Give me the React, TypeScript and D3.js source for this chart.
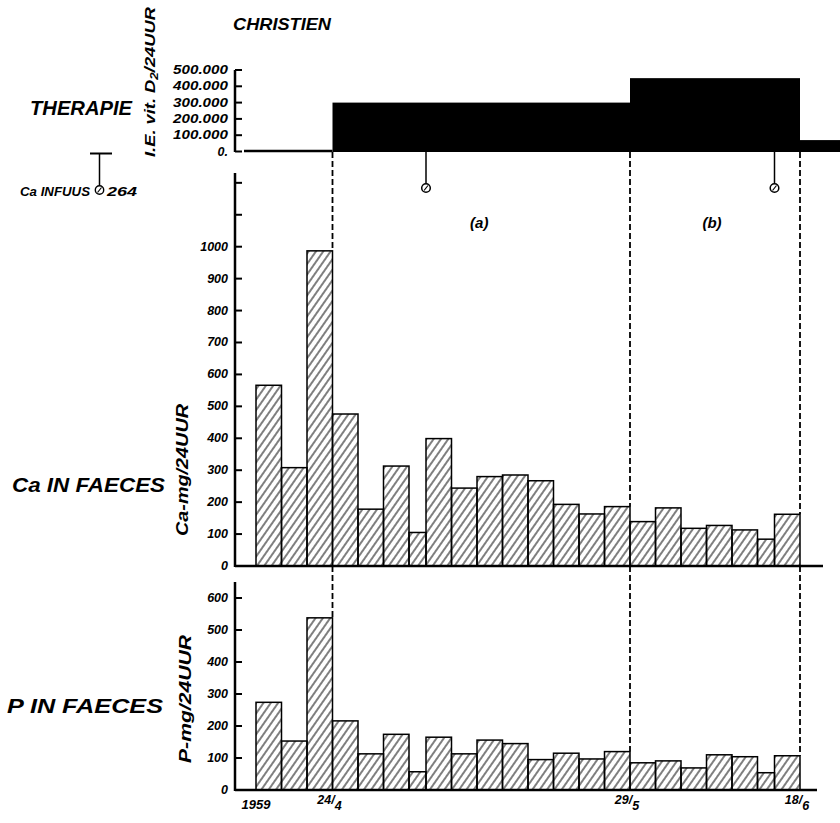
import React from 'react';
import * as d3 from 'd3';

// Collection periods (days) starting 15 April 1959, with faecal Ca and P per 24 h
const startDate = '1959-04-15';
const periodDays = [3, 3, 3, 3, 3, 3, 2, 3, 3, 3, 3, 3, 3, 3, 3, 3, 3, 3, 3, 3, 2, 3];
const caValues = [566, 308, 987, 476, 178, 313, 105, 399, 244, 280, 285, 267, 193, 163, 186, 139, 182, 118, 127, 113, 84, 162];
const pValues = [274, 153, 538, 216, 113, 174, 57, 165, 113, 156, 145, 95, 115, 97, 120, 85, 91, 69, 110, 104, 54, 107];

// Vitamin D2 therapy schedule (I.E. per 24 h)
const therapyStart = ['1959-04-15', '1959-04-24', '1959-05-29', '1959-06-18'];
const therapyEnd = ['1959-04-24', '1959-05-29', '1959-06-18', '1959-06-24'];
const therapyDose = [0, 300000, 450000, 70000];
const markerDates = ['1959-05-05', '1959-06-15'];

// Date markers along the time axis
const dateMarks = ['1959-04-24', '1959-05-29', '1959-06-18'];
const dateMarkNum = ['24', '29', '18'];
const dateMarkDen = ['4', '5', '6'];
const periodLabels = ['(a)', '(b)'];

// Axis ticks
const therapyTicks = [0, 100000, 200000, 300000, 400000, 500000];
const therapyTickLabels = ['0.', '100.000', '200.000', '300.000', '400.000', '500.000'];
const caTicks = [0, 100, 200, 300, 400, 500, 600, 700, 800, 900, 1000, 1100, 1200];
const caLabelled = 1000;
const pTicks = [0, 100, 200, 300, 400, 500, 600];

const parse = d3.timeParse('%Y-%m-%d');
const FONT = '"Liberation Sans", Arial, sans-serif';

export default function App() {
  const t0 = parse(startDate) as Date;
  const x = d3.scaleTime().domain([t0, parse('1959-06-18') as Date]).range([256, 800]);
  const yT = d3.scaleLinear().domain([0, 500000]).range([151.5, 70]);
  const yCa = d3.scaleLinear().domain([0, 1000]).range([566, 246.7]);
  const yP = d3.scaleLinear().domain([0, 600]).range([790, 598]);

  const cum = [0, ...d3.cumsum(periodDays)];
  const edges = cum.map((d) => d3.timeDay.offset(t0, d));
  const bars = periodDays.map((_, i) => ({ x0: x(edges[i]), x1: x(edges[i + 1]), ca: caValues[i], p: pValues[i] }));

  const axisX = 235;
  const tickStyle = { fontFamily: FONT, fontStyle: 'italic', fontWeight: 'bold', fontSize: 12.5 } as const;
  const headStyle = { fontFamily: FONT, fontStyle: 'italic', fontWeight: 'bold' } as const;

  const markerX = dateMarks.map((d) => x(parse(d) as Date));
  const boundaryIndex = (xx: number) => bars.findIndex((b) => Math.abs(b.x0 - xx) < 0.5);

  return (
    <svg width={840} height={823} style={{ position: 'absolute', left: 0, top: 0, background: '#fff' }}>
      <defs>
        <pattern id="hatch" width={6} height={8} patternUnits="userSpaceOnUse" patternTransform="rotate(35)">
          <line x1={1} y1={0} x2={1} y2={8} stroke="#000" strokeWidth={1} />
        </pattern>
      </defs>

      {/* Title and row captions */}
      <text x={233} y={30} fontSize={17} textLength={98} lengthAdjust="spacingAndGlyphs" style={headStyle}>CHRISTIEN</text>
      <text x={30} y={115} fontSize={20} textLength={102} lengthAdjust="spacingAndGlyphs" style={headStyle}>THERAPIE</text>
      <text x={12} y={492} fontSize={21} textLength={153} lengthAdjust="spacingAndGlyphs" style={headStyle}>Ca IN FAECES</text>
      <text x={7} y={713} fontSize={21} textLength={156} lengthAdjust="spacingAndGlyphs" style={headStyle}>P IN FAECES</text>

      {/* Rotated unit labels */}
      <text transform="translate(155,157) rotate(-90)" fontSize={15} textLength={150} lengthAdjust="spacingAndGlyphs" style={headStyle}>
        I.E. vit. D<tspan fontSize={11} dy={3}>2</tspan><tspan dy={-3}>/24UUR</tspan>
      </text>
      <text transform="translate(188,536) rotate(-90)" fontSize={17} textLength={132} lengthAdjust="spacingAndGlyphs" style={headStyle}>Ca-mg/24UUR</text>
      <text transform="translate(191,763) rotate(-90)" fontSize={17} textLength={128} lengthAdjust="spacingAndGlyphs" style={headStyle}>P-mg/24UUR</text>

      {/* Ca infusion annotation */}
      <line x1={90} y1={153.5} x2={112} y2={153.5} stroke="#000" strokeWidth={2} />
      <line x1={99.5} y1={153.5} x2={99.5} y2={186} stroke="#000" strokeWidth={1.5} />
      <circle cx={99.5} cy={190} r={4.2} fill="#fff" stroke="#000" strokeWidth={1.4} />
      <line x1={97.5} y1={192.5} x2={101.5} y2={187.5} stroke="#000" strokeWidth={1.2} />
      <text x={20} y={196} fontSize={12} textLength={70} lengthAdjust="spacingAndGlyphs" style={headStyle}>Ca INFUUS</text>
      <text x={107} y={196} fontSize={13} textLength={30} lengthAdjust="spacingAndGlyphs" style={headStyle}>264</text>

      {/* Therapy panel */}
      <line x1={axisX} y1={70} x2={axisX} y2={152} stroke="#000" strokeWidth={2.5} />
      {therapyTicks.map((t, i) => (
        <g key={t}>
          <line x1={axisX} x2={axisX + 7} y1={yT(t)} y2={yT(t)} stroke="#000" strokeWidth={2} />
          <text x={228} y={yT(t) + 4} textAnchor="end" style={tickStyle}
            textLength={therapyTickLabels[i].length > 2 ? 55 : undefined} lengthAdjust="spacingAndGlyphs">
            {therapyTickLabels[i]}
          </text>
        </g>
      ))}
      <line x1={244} x2={x(parse('1959-04-24') as Date)} y1={151} y2={151} stroke="#000" strokeWidth={2.5} />
      {therapyDose.map((d, i) => {
        const a = x(parse(therapyStart[i]) as Date);
        const b = x(parse(therapyEnd[i]) as Date);
        return d > 0 ? <rect key={i} x={a} y={yT(d)} width={b - a} height={yT(0) - yT(d) + 0.5} fill="#000" /> : null;
      })}
      {markerDates.map((d) => {
        const mx = x(parse(d) as Date);
        return (
          <g key={d}>
            <line x1={mx} x2={mx} y1={152} y2={184} stroke="#000" strokeWidth={1.5} />
            <circle cx={mx} cy={188} r={4.3} fill="#fff" stroke="#000" strokeWidth={1.5} />
            <path d={`M${mx - 2},${190.5} L${mx + 2},${185.5}`} stroke="#000" strokeWidth={1.2} />
          </g>
        );
      })}

      {/* Ca panel */}
      <line x1={axisX} y1={173} x2={axisX} y2={567} stroke="#000" strokeWidth={2.5} />
      <line x1={axisX} y1={566} x2={823} y2={566} stroke="#000" strokeWidth={2.5} />
      {caTicks.map((t) => (
        <g key={t}>
          <line x1={axisX} x2={axisX + 7} y1={yCa(t)} y2={yCa(t)} stroke="#000" strokeWidth={2} />
          {t <= caLabelled && (
            <text x={228} y={yCa(t) + 4} textAnchor="end" style={tickStyle}>{t}</text>
          )}
        </g>
      ))}
      {bars.map((b, i) => (
        <rect key={i} x={b.x0} y={yCa(b.ca)} width={b.x1 - b.x0} height={yCa(0) - yCa(b.ca)}
          fill="url(#hatch)" stroke="#000" strokeWidth={1.5} />
      ))}
      {periodLabels.map((l, i) => (
        <text key={l} x={(markerX[i] + markerX[i + 1]) / 2 - 2 + (i === 0 ? 0 : -1)} y={228} textAnchor="middle"
          fontSize={15} style={headStyle}>{l}</text>
      ))}

      {/* P panel */}
      <line x1={axisX} y1={582} x2={axisX} y2={791} stroke="#000" strokeWidth={2.5} />
      <line x1={axisX} y1={790} x2={817} y2={790} stroke="#000" strokeWidth={2.5} />
      {pTicks.map((t) => (
        <g key={t}>
          <line x1={axisX} x2={axisX + 7} y1={yP(t)} y2={yP(t)} stroke="#000" strokeWidth={2} />
          <text x={228} y={yP(t) + 4} textAnchor="end" style={tickStyle}>{t}</text>
        </g>
      ))}
      {bars.map((b, i) => (
        <rect key={i} x={b.x0} y={yP(b.p)} width={b.x1 - b.x0} height={yP(0) - yP(b.p)}
          fill="url(#hatch)" stroke="#000" strokeWidth={1.5} />
      ))}

      {/* Dashed date markers running through the panels */}
      {markerX.map((mx, k) => {
        let i = boundaryIndex(mx);
        if (i < 0) i = bars.length;
        const left = bars[i - 1];
        const right = bars[i];
        const caTop = Math.min(yCa(left.ca), right ? yCa(right.ca) : 566);
        const pTop = Math.min(yP(left.p), right ? yP(right.p) : 790);
        return (
          <g key={k} stroke="#000" strokeWidth={1.8} strokeDasharray="6,3">
            <line x1={mx} x2={mx} y1={152} y2={caTop} />
            <line x1={mx} x2={mx} y1={566} y2={pTop} />
          </g>
        );
      })}

      {/* Time axis labels */}
      <text x={256} y={809} textAnchor="middle" fontSize={13} style={headStyle}>1959</text>
      {markerX.map((mx, k) => (
        <text key={k} x={mx - 3} y={806} textAnchor="middle" fontSize={12.5} style={headStyle}>
          <tspan dy={-2}>{dateMarkNum[k]}</tspan>
          <tspan>/</tspan>
          <tspan dy={6}>{dateMarkDen[k]}</tspan>
        </text>
      ))}
    </svg>
  );
}
